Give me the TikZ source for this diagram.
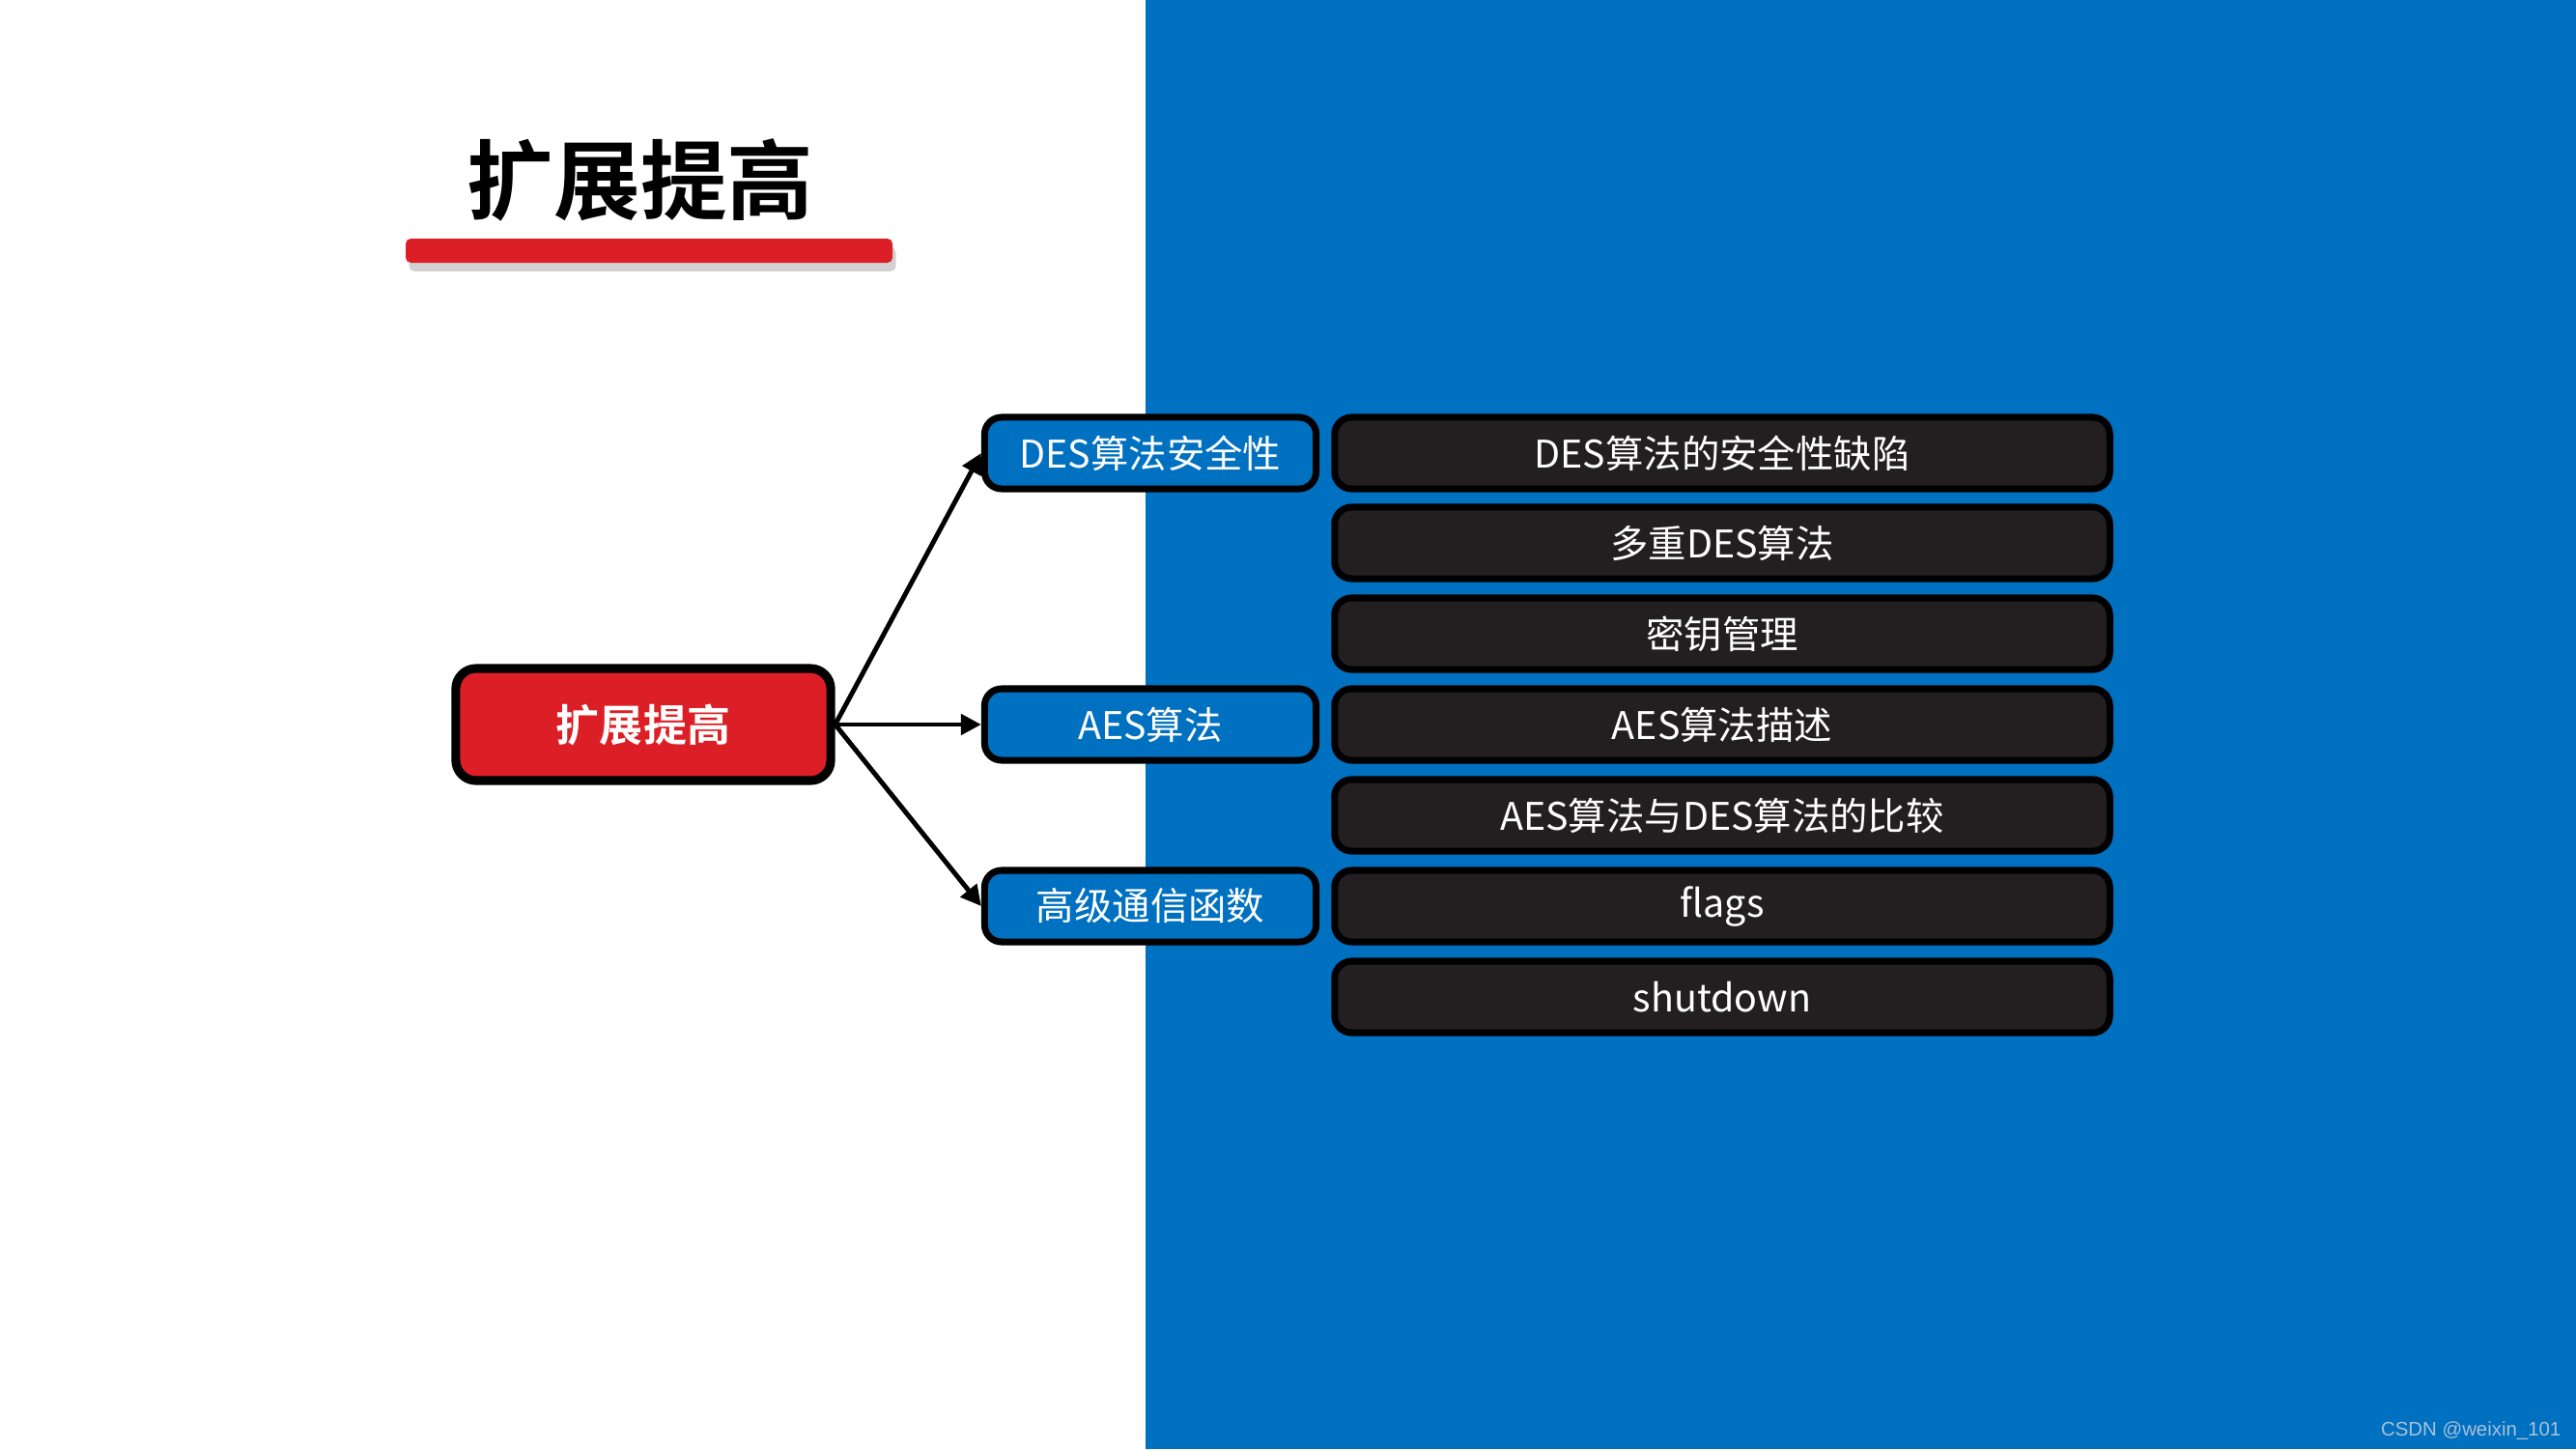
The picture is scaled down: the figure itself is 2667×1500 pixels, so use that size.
\documentclass[tikz,border=0pt]{standalone}
\usepackage{fontspec}
\setmainfont{Liberation Sans}
\newfontfamily\cjk{Noto Sans CJK SC}
\newfontfamily\cjkbold{Noto Sans CJK SC Bold}
\usetikzlibrary{arrows.meta,shadows}
\definecolor{bgblue}{HTML}{0070C0}
\definecolor{redfill}{HTML}{DC1F26}
\definecolor{darkfill}{HTML}{231F20}
\definecolor{wmark}{HTML}{A9C1D9}
\tikzset{
  px/.style={x=0.01cm,y=-0.01cm},
  rootbox/.style={draw=black, line width=2.6pt, fill=redfill, rounded corners=6pt,
    minimum width=3.88cm, minimum height=1.16cm, text=white, font=\cjkbold\fontsize{12.8}{15}\selectfont},
  midbox/.style={draw=black, line width=2pt, fill=bgblue, rounded corners=5pt,
    minimum width=3.43cm, minimum height=0.74cm, text=white, font=\cjk\fontsize{11.2}{14}\selectfont},
  leafbox/.style={draw=black, line width=2pt, fill=darkfill, rounded corners=5pt,
    minimum width=8.02cm, minimum height=0.74cm, text=white, font=\cjk\fontsize{11.2}{14}\selectfont},
  link/.style={line width=1.4pt, -{Triangle[length=6pt,width=6pt]}},
}
\begin{document}
\begin{tikzpicture}[px]
\useasboundingbox (0,0) rectangle (2667,1500);
\fill[white] (0,0) rectangle (1186,1500);
\fill[bgblue] (1186,0) rectangle (2667,1500);
% title
\node[font=\cjkbold\fontsize{25.5}{30}\selectfont, text=black] (title) at (663,186) {扩展提高};
\fill[redfill, rounded corners=1.5pt, drop shadow={shadow xshift=1pt, shadow yshift=-2.5pt, opacity=0.35}] (420,247) rectangle (924,272);
% nodes
\node[rootbox] (root) at (666,750) {扩展提高};
\node[midbox] (des) at (1191,469) {DES算法安全性};
\node[midbox] (aes) at (1191,750) {AES算法};
\node[midbox] (adv) at (1191,938) {高级通信函数};
\node[leafbox] (l1) at (1783,469) {DES算法的安全性缺陷};
\node[leafbox] (l2) at (1783,562) {多重DES算法};
\node[leafbox] (l3) at (1783,656) {密钥管理};
\node[leafbox] (l4) at (1783,750) {AES算法描述};
\node[leafbox] (l5) at (1783,844) {AES算法与DES算法的比较};
\node[leafbox] (l6) at (1783,938) {flags};
\node[leafbox] (l7) at (1783,1032) {shutdown};
% links
\draw[link] (root.east) -- (des.west);
\draw[link] (root.east) -- (aes.west);
\draw[link] (root.east) -- (adv.west);
% watermark
\node[anchor=east, text=wmark, font=\fontsize{5.8}{7}\selectfont, inner sep=0pt] (wm) at (2652,1481) {CSDN @weixin\_101};
\end{tikzpicture}
\end{document}
